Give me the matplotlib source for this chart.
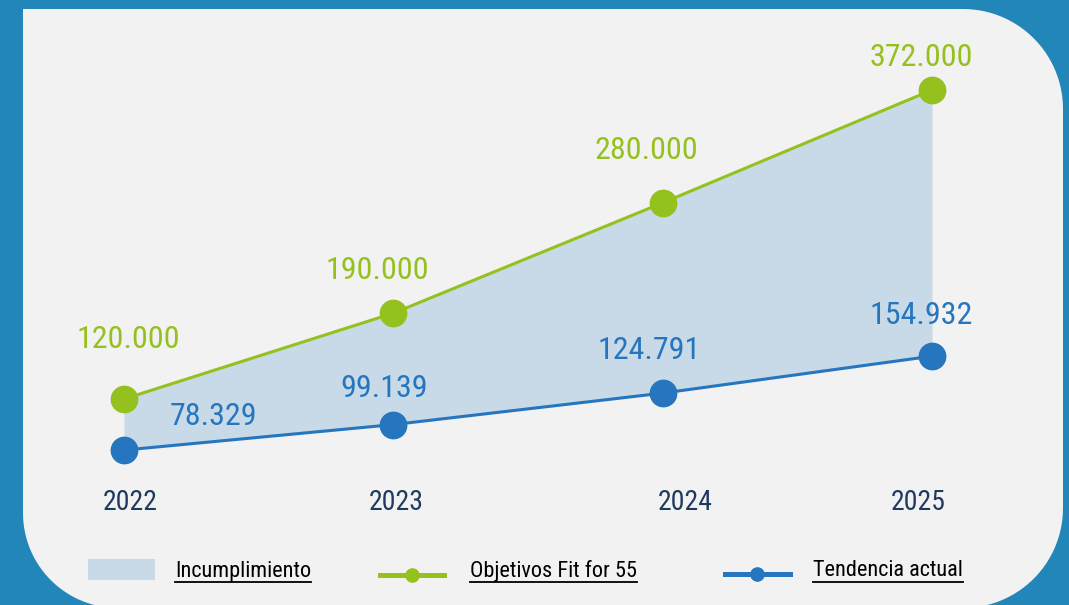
import numpy as np
import matplotlib.pyplot as plt
from matplotlib.path import Path
from matplotlib.patches import PathPatch, Rectangle
from matplotlib.lines import Line2D
from matplotlib.transforms import Affine2D

# ----------------------------------------------------------------------------
# Emisiones: objetivos Fit for 55 vs tendencia actual
# ----------------------------------------------------------------------------
years = ['2022', '2023', '2024', '2025']
objetivos = [120000, 190000, 280000, 372000]
tendencia = [78329, 99139, 124791, 154932]

legend_labels = ['Incumplimiento', 'Objetivos Fit for 55', 'Tendencia actual']

GREEN = '#95C11F'
BLUE = '#2576BE'
FILL = '#C8DAE7'
NAVY = '#1F3A5F'
PANEL = '#F2F2F2'
BG = '#2386B8'

FONT = ['Liberation Sans Narrow', 'Roboto Condensed', 'DejaVu Sans']
W, H = 1069, 605

fig = plt.figure(figsize=(W / 100, H / 100), dpi=100, facecolor=BG)

# pixel coords (origin top-left) -> figure
px = Affine2D().scale(1 / W, -1 / H).translate(0, 1) + fig.transFigure


def arc(cx, cy, r, a0, a1, n=30):
    t = np.radians(np.linspace(a0, a1, n))
    return list(zip(cx + r * np.cos(t), cy - r * np.sin(t)))


# panel with rounded corners (top-left square)
L, T, R, B = 23, 9, 1063, 608
pts = [(L, T), (R - 100, T)]
pts += arc(R - 100, T + 100, 100, 90, 0)
pts += arc(R - 100, B - 100, 100, 0, -90)
pts += arc(L + 95, B - 95, 95, -90, -180)
pts += [(L, T)]
panel = PathPatch(Path(pts), facecolor=PANEL, edgecolor='none', transform=px, zorder=-5)
fig.patches.append(panel)

# chart axes: maps category index / value onto pixel layout
ax = fig.add_axes([0, 0, 1, 1])
ax.set_facecolor('none')
ax.axis('off')
xs = np.arange(len(years))
ppu_x = (932 - 124) / 3
ax.set_xlim(-124 / ppu_x, (W - 124) / ppu_x)
upp = (372000 - 120000) / (399 - 90)
ax.set_ylim(120000 - (H - 399) * upp, 120000 + 399 * upp)

ax.fill_between(xs, tendencia, objetivos, color=FILL, lw=0, zorder=1)
ax.plot(xs, objetivos, color=GREEN, lw=2.2, marker='o', ms=19, zorder=3)
ax.plot(xs, tendencia, color=BLUE, lw=2.2, marker='o', ms=19, zorder=3)

green_off = [(4, 60), (-16, 43), (-16, 52), (-11, 33)]
blue_off = [(89, 34), (-9, 36), (-14, 43), (-11, 41)]


def fmt(v):
    return f'{v:,}'.replace(',', '.')


for i in range(len(years)):
    ax.annotate(fmt(objetivos[i]), (xs[i], objetivos[i]), xytext=green_off[i],
                textcoords='offset pixels', ha='center', va='center',
                color=GREEN, fontsize=23, family=FONT, fontstretch='condensed')
    ax.annotate(fmt(tendencia[i]), (xs[i], tendencia[i]), xytext=blue_off[i],
                textcoords='offset pixels', ha='center', va='center',
                color=BLUE, fontsize=23, family=FONT, fontstretch='condensed')

# year labels along the bottom
year_dx = [6, 3, 23, -14]
for i, yr in enumerate(years):
    ax.annotate(yr, (xs[i], 0), xycoords=('data', 'axes fraction'),
                xytext=(year_dx[i], H - 503), textcoords='offset pixels',
                ha='center', va='center', color=NAVY, fontsize=20,
                family=FONT, fontstretch='condensed')

# legend, drawn by hand
fig.patches.append(Rectangle((88, 559), 67, 21, facecolor=FILL, edgecolor='none',
                             transform=px))
fig.lines.append(Line2D([380, 444], [575, 575], color=GREEN, lw=3.6, transform=px))
fig.lines.append(Line2D([412], [575], color=GREEN, marker='o', ms=9.5, transform=px))
fig.lines.append(Line2D([725, 790], [574, 574], color=BLUE, lw=3.6, transform=px))
fig.lines.append(Line2D([757], [574], color=BLUE, marker='o', ms=9.5, transform=px))

leg_x = [175, 470, 813]
leg_texts = []
for x, lab in zip(leg_x, legend_labels):
    t = fig.text(x, 571, lab, transform=px, ha='left', va='center', color='black',
                 fontsize=16, family=FONT, fontstretch='condensed')
    leg_texts.append(t)

fig.canvas.draw()
r = fig.canvas.get_renderer()
for t in leg_texts:
    bb = t.get_window_extent(r)
    fig.lines.append(Line2D([bb.x0, bb.x1], [bb.y0, bb.y0], color='black', lw=1.3,
                            transform=None))

fig.savefig('out.png', dpi=100, facecolor=BG)
